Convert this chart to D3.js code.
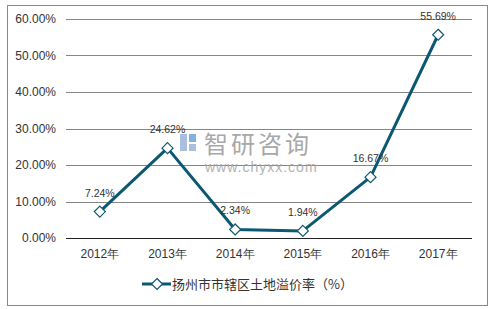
<!DOCTYPE html>
<html>
<head>
<meta charset="utf-8">
<script src="https://cdn.jsdelivr.net/npm/d3@7"></script>
<style>
  body { margin: 0; background: #fff; }
  svg { display: block; font-family: "Liberation Sans", Arial, "Noto Sans CJK SC", sans-serif; }
</style>
</head>
<body>
<svg id="chart" width="494" height="309"></svg>
<script>
// data
var years = ["2012年", "2013年", "2014年", "2015年", "2016年", "2017年"];
var rates = [7.24, 24.62, 2.34, 1.94, 16.67, 55.69];
var yTicks = [0, 10, 20, 30, 40, 50, 60];
var seriesName = "扬州市市辖区土地溢价率（%）";

var svg = d3.select("#chart");
var lineColor = "#0d5871";

// outer frame
svg.append("rect")
    .attr("x", 7.5).attr("y", 5.5)
    .attr("width", 480).attr("height", 300)
    .attr("fill", "#fff")
    .attr("stroke", "#898989");

// plot area (window.top is read-only, so no plain "top" here)
var plotL = 66, plotR = 472, plotT = 19, plotB = 238;

var x = d3.scaleBand().domain(years).range([plotL, plotR]);
var y = d3.scaleLinear().domain([0, 60]).range([plotB, plotT]);

// gridlines
svg.append("g")
    .selectAll("line")
    .data(yTicks.filter(d => d > 0))
    .enter().append("line")
    .attr("x1", plotL).attr("x2", plotR)
    .attr("y1", d => Math.round(y(d)) + 0.5)
    .attr("y2", d => Math.round(y(d)) + 0.5)
    .attr("stroke", "#868686");

// y axis labels
var yAxis = d3.axisLeft(y).tickValues(yTicks)
    .tickFormat(d => d.toFixed(2) + "%")
    .tickSize(0).tickPadding(10);
svg.append("g")
    .attr("transform", "translate(" + plotL + ",0)")
    .call(yAxis)
    .call(g => g.select(".domain").remove())
    .selectAll("text")
    .attr("font-size", 12)
    .attr("fill", "#333");

// x axis
var xAxis = d3.axisBottom(x).tickSize(0).tickPadding(11);
svg.append("g")
    .attr("transform", "translate(0," + (Math.round(plotB) + 0.5) + ")")
    .call(xAxis)
    .call(g => g.select(".domain").attr("stroke", "#222").attr("d", "M" + plotL + ",0H" + plotR))
    .selectAll("text")
    .attr("font-size", 12)
    .attr("fill", "#333");

// watermark
var wm = svg.append("g").attr("opacity", 0.85);
wm.append("rect").attr("x", 180).attr("y", 134).attr("width", 7).attr("height", 17).attr("fill", "#9bb5d8");
wm.append("rect").attr("x", 189).attr("y", 134).attr("width", 7).attr("height", 8).attr("fill", "#6fa3d6");
wm.append("rect").attr("x", 189).attr("y", 144).attr("width", 7).attr("height", 7).attr("fill", "#9bb5d8");
wm.append("text")
    .attr("x", 204).attr("y", 153)
    .attr("font-size", 24)
    .attr("font-family", "Noto Sans CJK SC")
    .attr("letter-spacing", 3)
    .attr("fill", "#999")
    .text("智研咨询");
wm.append("text")
    .attr("x", 205).attr("y", 172)
    .attr("font-size", 14)
    .attr("letter-spacing", 1)
    .attr("fill", "#a5a5a5")
    .text("www.chyxx.com");

// line
var line = d3.line()
    .x((d, i) => x(years[i]) + x.bandwidth() / 2)
    .y(d => y(d));

svg.append("path")
    .datum(rates)
    .attr("d", line)
    .attr("fill", "none")
    .attr("stroke", lineColor)
    .attr("stroke-width", 3)
    .attr("stroke-linejoin", "round");

// diamond markers
var diamond = "M0,-5.5L5.5,0L0,5.5L-5.5,0Z";
svg.append("g")
    .selectAll("path")
    .data(rates)
    .enter().append("path")
    .attr("d", diamond)
    .attr("transform", (d, i) => "translate(" + (x(years[i]) + x.bandwidth() / 2) + "," + y(d) + ")")
    .attr("fill", "#fff")
    .attr("stroke", lineColor)
    .attr("stroke-width", 1.2);

// value labels
svg.append("g")
    .selectAll("text")
    .data(rates)
    .enter().append("text")
    .attr("x", (d, i) => x(years[i]) + x.bandwidth() / 2)
    .attr("y", d => y(d) - 15)
    .attr("text-anchor", "middle")
    .attr("font-size", 10.5)
    .attr("fill", "#333")
    .text(d => d.toFixed(2) + "%");

// legend
var lg = svg.append("g").attr("transform", "translate(142,284)");
lg.append("line")
    .attr("x1", 0).attr("x2", 29)
    .attr("stroke", lineColor).attr("stroke-width", 3);
lg.append("path")
    .attr("d", diamond)
    .attr("transform", "translate(15,0)")
    .attr("fill", "#fff")
    .attr("stroke", lineColor)
    .attr("stroke-width", 1.2);
lg.append("text")
    .attr("x", 30).attr("y", 0)
    .attr("dy", "0.35em")
    .attr("font-size", 13)
    .attr("font-family", "Noto Sans CJK SC")
    .attr("fill", "#333")
    .text(seriesName);
</script>
</body>
</html>
